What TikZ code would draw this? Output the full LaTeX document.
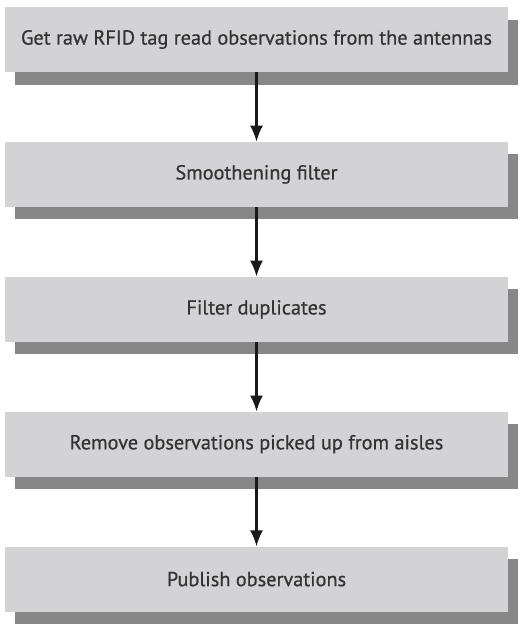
\documentclass[tikz,border=0pt]{standalone}
\usepackage{fontspec}
\setmainfont{PT Sans}[FakeBold=0.6]
\usetikzlibrary{positioning, shadows, arrows.meta}

\definecolor{boxgray}{HTML}{D3D2D4}
\definecolor{shadowgray}{HTML}{878787}
\definecolor{textgray}{HTML}{333333}

\begin{document}
\begin{tikzpicture}[x=1pt, y=-1pt, node distance=69.5pt,
        stage/.style={fill=boxgray, minimum width=503pt, minimum height=65pt,
            inner sep=0pt, text=textgray, font=\fontsize{20.3}{22}\selectfont,
            general shadow={shadow xshift=10pt, shadow yshift=-12.5pt, fill=shadowgray}},
        flow/.style={-{Latex[length=16pt, width=13pt]}, line width=2.2pt, black!90}]
            \useasboundingbox (0,0) rectangle (522,624);

            \node[stage] (raw) at (256.5,39.5) {Get raw RFID tag read observations from the antennas};
            \node[stage, below=of raw] (smooth) {Smoothening filter};
            \node[stage, below=of smooth] (dupes) {Filter duplicates};
            \node[stage, below=of dupes] (aisles) {Remove observations picked up from aisles};
            \node[stage, below=of aisles] (publish) {Publish observations};

            \foreach \a/\b in {raw/smooth, smooth/dupes, dupes/aisles, aisles/publish}{
                \draw[flow] (\a) -- (\b);
            }
        \end{tikzpicture}
\end{document}
